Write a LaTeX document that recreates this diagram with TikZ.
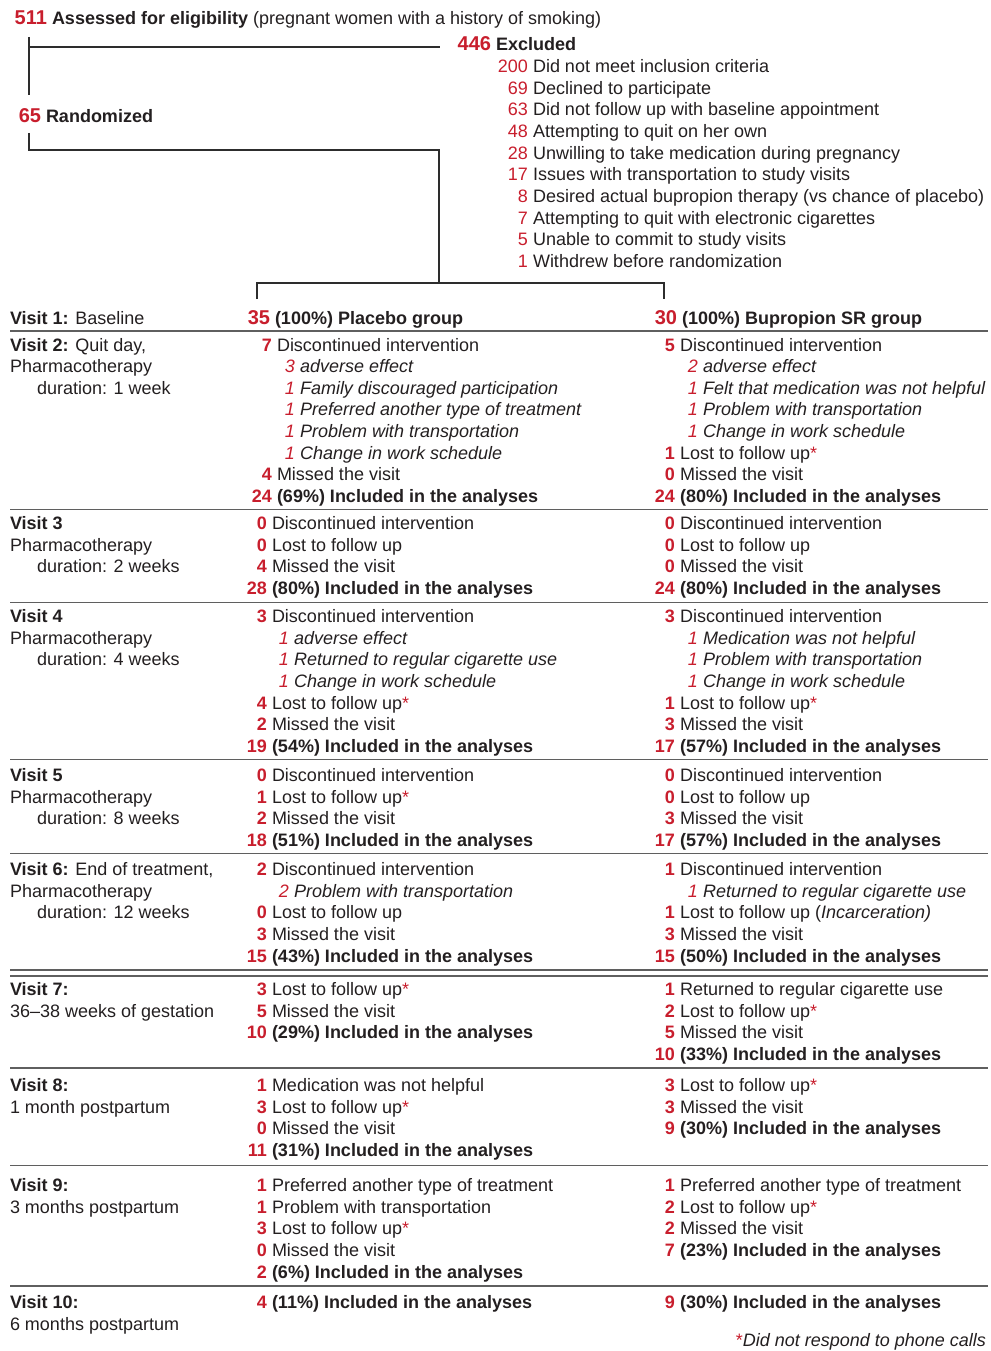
\documentclass[tikz,border=0pt]{standalone}
\usepackage{fontspec}
\setmainfont{Liberation Sans}
\definecolor{cred}{RGB}{200,30,45}
\definecolor{ink}{RGB}{35,31,32}
\definecolor{rulegray}{RGB}{95,95,95}
\definecolor{treegray}{RGB}{45,45,45}
\newcommand\mynb[1]{\llap{\textcolor{cred}{\bfseries #1}\ }}
\newcommand\myni[1]{\llap{\textcolor{cred}{\itshape #1}\ }}
\newcommand\mynr[1]{\llap{\textcolor{cred}{#1}\ }}
\newcommand\mynh[1]{\llap{\textcolor{cred}{\fontsize{20}{24}\selectfont\bfseries #1}\ }}
\newcommand\myast{\textcolor{cred}{*}}
\newcommand\myrow[5]{\node[txt] (#1) at (#2,{#3+#4*21.65}) {#5};}
\begin{document}
\begin{tikzpicture}[x=1pt,y=-1pt,
  txt/.style={anchor=base west, inner sep=0pt, outer sep=0pt, font=\fontsize{18}{21.65}\selectfont, text=ink},
  sepline/.style={draw=rulegray, line width=1.8pt},
  tree/.style={draw=treegray, line width=1.6pt}]
\useasboundingbox (0,0) rectangle (990,1351);

% ---------- top ----------
\node[txt] (assessed) at (52,25) {\mynh{511}\textbf{Assessed for eligibility} (pregnant women with a history of smoking)};
\node[txt] (excluded) at (496,50.5) {\mynh{446}\textbf{Excluded}};
\myrow{ex1}{533}{72.5}{0}{\mynr{200}Did not meet inclusion criteria}
\myrow{ex2}{533}{72.5}{1}{\mynr{69}Declined to participate}
\myrow{ex3}{533}{72.5}{2}{\mynr{63}Did not follow up with baseline appointment}
\myrow{ex4}{533}{72.5}{3}{\mynr{48}Attempting to quit on her own}
\myrow{ex5}{533}{72.5}{4}{\mynr{28}Unwilling to take medication during pregnancy}
\myrow{ex6}{533}{72.5}{5}{\mynr{17}Issues with transportation to study visits}
\myrow{ex7}{533}{72.5}{6}{\mynr{8}Desired actual bupropion therapy (vs chance of placebo)}
\myrow{ex8}{533}{72.5}{7}{\mynr{7}Attempting to quit with electronic cigarettes}
\myrow{ex9}{533}{72.5}{8}{\mynr{5}Unable to commit to study visits}
\myrow{ex10}{533}{72.5}{9}{\mynr{1}Withdrew before randomization}
\node[txt] (random) at (46,122.5) {\mynh{65}\textbf{Randomized}};

% tree connectors
\coordinate (a1) at (29,37);
\coordinate (a2) at (29,95);
\coordinate (a3) at (29,47);
\coordinate (a4) at (440,47);
\coordinate (r1) at (29,133);
\coordinate (r2) at (29,150);
\coordinate (r3) at (439,150);
\coordinate (r4) at (439,283);
\coordinate (b1) at (257,299);
\coordinate (b2) at (257,283);
\coordinate (b3) at (664,283);
\coordinate (b4) at (664,299);
\draw[tree] (a1) -- (a2);
\draw[tree] (a3) -- (a4);
\draw[tree] (r1) -- (r2) -- (r3) -- (r4);
\draw[tree] (b1) -- (b2) -- (b3) -- (b4);

% ---------- headers ----------
\node[txt] (v1) at (10,324) {\textbf{Visit 1:} Baseline};
\node[txt] (hp) at (275,324) {\mynh{35}\textbf{(100\%) Placebo group}};
\node[txt] (hb) at (682,324) {\mynh{30}\textbf{(100\%) Bupropion SR group}};

% separator lines
\foreach \yy [count=\i] in {331,509.5,602.5,759.5,853.5,970,976,1068,1165.5,1286}{
  \coordinate (sl\i) at (10,\yy);
  \coordinate (sr\i) at (988,\yy);
  \draw[sepline] (sl\i) -- (sr\i);
}

% ---------- Visit 2 ----------
\myrow{v2a}{10}{351}{0}{\textbf{Visit 2:} Quit day,}
\myrow{v2b}{10}{351}{1}{Pharmacotherapy}
\myrow{v2c}{37}{351}{2}{duration: 1 week}
\myrow{p2a}{277}{351}{0}{\mynb{7}Discontinued intervention}
\myrow{p2b}{300}{351}{1}{\myni{3}\textit{adverse effect}}
\myrow{p2c}{300}{351}{2}{\myni{1}\textit{Family discouraged participation}}
\myrow{p2d}{300}{351}{3}{\myni{1}\textit{Preferred another type of treatment}}
\myrow{p2e}{300}{351}{4}{\myni{1}\textit{Problem with transportation}}
\myrow{p2f}{300}{351}{5}{\myni{1}\textit{Change in work schedule}}
\myrow{p2g}{277}{351}{6}{\mynb{4}Missed the visit}
\myrow{p2h}{277}{351}{7}{\mynb{24}\textbf{(69\%) Included in the analyses}}
\myrow{q2a}{680}{351}{0}{\mynb{5}Discontinued intervention}
\myrow{q2b}{703}{351}{1}{\myni{2}\textit{adverse effect}}
\myrow{q2c}{703}{351}{2}{\myni{1}\textit{Felt that medication was not helpful}}
\myrow{q2d}{703}{351}{3}{\myni{1}\textit{Problem with transportation}}
\myrow{q2e}{703}{351}{4}{\myni{1}\textit{Change in work schedule}}
\myrow{q2f}{680}{351}{5}{\mynb{1}Lost to follow up\myast}
\myrow{q2g}{680}{351}{6}{\mynb{0}Missed the visit}
\myrow{q2h}{680}{351}{7}{\mynb{24}\textbf{(80\%) Included in the analyses}}

% ---------- Visit 3 ----------
\myrow{v3a}{10}{529.5}{0}{\textbf{Visit 3}}
\myrow{v3b}{10}{529.5}{1}{Pharmacotherapy}
\myrow{v3c}{37}{529.5}{2}{duration: 2 weeks}
\myrow{p3a}{272}{529.5}{0}{\mynb{0}Discontinued intervention}
\myrow{p3b}{272}{529.5}{1}{\mynb{0}Lost to follow up}
\myrow{p3c}{272}{529.5}{2}{\mynb{4}Missed the visit}
\myrow{p3d}{272}{529.5}{3}{\mynb{28}\textbf{(80\%) Included in the analyses}}
\myrow{q3a}{680}{529.5}{0}{\mynb{0}Discontinued intervention}
\myrow{q3b}{680}{529.5}{1}{\mynb{0}Lost to follow up}
\myrow{q3c}{680}{529.5}{2}{\mynb{0}Missed the visit}
\myrow{q3d}{680}{529.5}{3}{\mynb{24}\textbf{(80\%) Included in the analyses}}

% ---------- Visit 4 ----------
\myrow{v4a}{10}{622.5}{0}{\textbf{Visit 4}}
\myrow{v4b}{10}{622.5}{1}{Pharmacotherapy}
\myrow{v4c}{37}{622.5}{2}{duration: 4 weeks}
\myrow{p4a}{272}{622.5}{0}{\mynb{3}Discontinued intervention}
\myrow{p4b}{294}{622.5}{1}{\myni{1}\textit{adverse effect}}
\myrow{p4c}{294}{622.5}{2}{\myni{1}\textit{Returned to regular cigarette use}}
\myrow{p4d}{294}{622.5}{3}{\myni{1}\textit{Change in work schedule}}
\myrow{p4e}{272}{622.5}{4}{\mynb{4}Lost to follow up\myast}
\myrow{p4f}{272}{622.5}{5}{\mynb{2}Missed the visit}
\myrow{p4g}{272}{622.5}{6}{\mynb{19}\textbf{(54\%) Included in the analyses}}
\myrow{q4a}{680}{622.5}{0}{\mynb{3}Discontinued intervention}
\myrow{q4b}{703}{622.5}{1}{\myni{1}\textit{Medication was not helpful}}
\myrow{q4c}{703}{622.5}{2}{\myni{1}\textit{Problem with transportation}}
\myrow{q4d}{703}{622.5}{3}{\myni{1}\textit{Change in work schedule}}
\myrow{q4e}{680}{622.5}{4}{\mynb{1}Lost to follow up\myast}
\myrow{q4f}{680}{622.5}{5}{\mynb{3}Missed the visit}
\myrow{q4g}{680}{622.5}{6}{\mynb{17}\textbf{(57\%) Included in the analyses}}

% ---------- Visit 5 ----------
\myrow{v5a}{10}{781.5}{0}{\textbf{Visit 5}}
\myrow{v5b}{10}{781.5}{1}{Pharmacotherapy}
\myrow{v5c}{37}{781.5}{2}{duration: 8 weeks}
\myrow{p5a}{272}{781.5}{0}{\mynb{0}Discontinued intervention}
\myrow{p5b}{272}{781.5}{1}{\mynb{1}Lost to follow up\myast}
\myrow{p5c}{272}{781.5}{2}{\mynb{2}Missed the visit}
\myrow{p5d}{272}{781.5}{3}{\mynb{18}\textbf{(51\%) Included in the analyses}}
\myrow{q5a}{680}{781.5}{0}{\mynb{0}Discontinued intervention}
\myrow{q5b}{680}{781.5}{1}{\mynb{0}Lost to follow up}
\myrow{q5c}{680}{781.5}{2}{\mynb{3}Missed the visit}
\myrow{q5d}{680}{781.5}{3}{\mynb{17}\textbf{(57\%) Included in the analyses}}

% ---------- Visit 6 ----------
\myrow{v6a}{10}{875.5}{0}{\textbf{Visit 6:} End of treatment,}
\myrow{v6b}{10}{875.5}{1}{Pharmacotherapy}
\myrow{v6c}{37}{875.5}{2}{duration: 12 weeks}
\myrow{p6a}{272}{875.5}{0}{\mynb{2}Discontinued intervention}
\myrow{p6b}{294}{875.5}{1}{\myni{2}\textit{Problem with transportation}}
\myrow{p6c}{272}{875.5}{2}{\mynb{0}Lost to follow up}
\myrow{p6d}{272}{875.5}{3}{\mynb{3}Missed the visit}
\myrow{p6e}{272}{875.5}{4}{\mynb{15}\textbf{(43\%) Included in the analyses}}
\myrow{q6a}{680}{875.5}{0}{\mynb{1}Discontinued intervention}
\myrow{q6b}{703}{875.5}{1}{\myni{1}\textit{Returned to regular cigarette use}}
\myrow{q6c}{680}{875.5}{2}{\mynb{1}Lost to follow up (\textit{Incarceration)}}
\myrow{q6d}{680}{875.5}{3}{\mynb{3}Missed the visit}
\myrow{q6e}{680}{875.5}{4}{\mynb{15}\textbf{(50\%) Included in the analyses}}

% ---------- Visit 7 ----------
\myrow{v7a}{10}{995.5}{0}{\textbf{Visit 7:}}
\myrow{v7b}{10}{995.5}{1}{36--38 weeks of gestation}
\myrow{p7a}{272}{995.5}{0}{\mynb{3}Lost to follow up\myast}
\myrow{p7b}{272}{995.5}{1}{\mynb{5}Missed the visit}
\myrow{p7c}{272}{995.5}{2}{\mynb{10}\textbf{(29\%) Included in the analyses}}
\myrow{q7a}{680}{995.5}{0}{\mynb{1}Returned to regular cigarette use}
\myrow{q7b}{680}{995.5}{1}{\mynb{2}Lost to follow up\myast}
\myrow{q7c}{680}{995.5}{2}{\mynb{5}Missed the visit}
\myrow{q7d}{680}{995.5}{3}{\mynb{10}\textbf{(33\%) Included in the analyses}}

% ---------- Visit 8 ----------
\myrow{v8a}{10}{1091.5}{0}{\textbf{Visit 8:}}
\myrow{v8b}{10}{1091.5}{1}{1 month postpartum}
\myrow{p8a}{272}{1091.5}{0}{\mynb{1}Medication was not helpful}
\myrow{p8b}{272}{1091.5}{1}{\mynb{3}Lost to follow up\myast}
\myrow{p8c}{272}{1091.5}{2}{\mynb{0}Missed the visit}
\myrow{p8d}{272}{1091.5}{3}{\mynb{11}\textbf{(31\%) Included in the analyses}}
\myrow{q8a}{680}{1091.5}{0}{\mynb{3}Lost to follow up\myast}
\myrow{q8b}{680}{1091.5}{1}{\mynb{3}Missed the visit}
\myrow{q8c}{680}{1091.5}{2}{\mynb{9}\textbf{(30\%) Included in the analyses}}

% ---------- Visit 9 ----------
\myrow{v9a}{10}{1191.5}{0}{\textbf{Visit 9:}}
\myrow{v9b}{10}{1191.5}{1}{3 months postpartum}
\myrow{p9a}{272}{1191.5}{0}{\mynb{1}Preferred another type of treatment}
\myrow{p9b}{272}{1191.5}{1}{\mynb{1}Problem with transportation}
\myrow{p9c}{272}{1191.5}{2}{\mynb{3}Lost to follow up\myast}
\myrow{p9d}{272}{1191.5}{3}{\mynb{0}Missed the visit}
\myrow{p9e}{272}{1191.5}{4}{\mynb{2}\textbf{(6\%) Included in the analyses}}
\myrow{q9a}{680}{1191.5}{0}{\mynb{1}Preferred another type of treatment}
\myrow{q9b}{680}{1191.5}{1}{\mynb{2}Lost to follow up\myast}
\myrow{q9c}{680}{1191.5}{2}{\mynb{2}Missed the visit}
\myrow{q9d}{680}{1191.5}{3}{\mynb{7}\textbf{(23\%) Included in the analyses}}

% ---------- Visit 10 ----------
\myrow{v10a}{10}{1308.5}{0}{\textbf{Visit 10:}}
\myrow{v10b}{10}{1308.5}{1}{6 months postpartum}
\myrow{p10a}{272}{1308.5}{0}{\mynb{4}\textbf{(11\%) Included in the analyses}}
\myrow{q10a}{680}{1308.5}{0}{\mynb{9}\textbf{(30\%) Included in the analyses}}

% footnote
\node[txt, anchor=base east] (foot) at (986,1346.5) {\myast\textit{Did not respond to phone calls}};
\end{tikzpicture}
\end{document}
